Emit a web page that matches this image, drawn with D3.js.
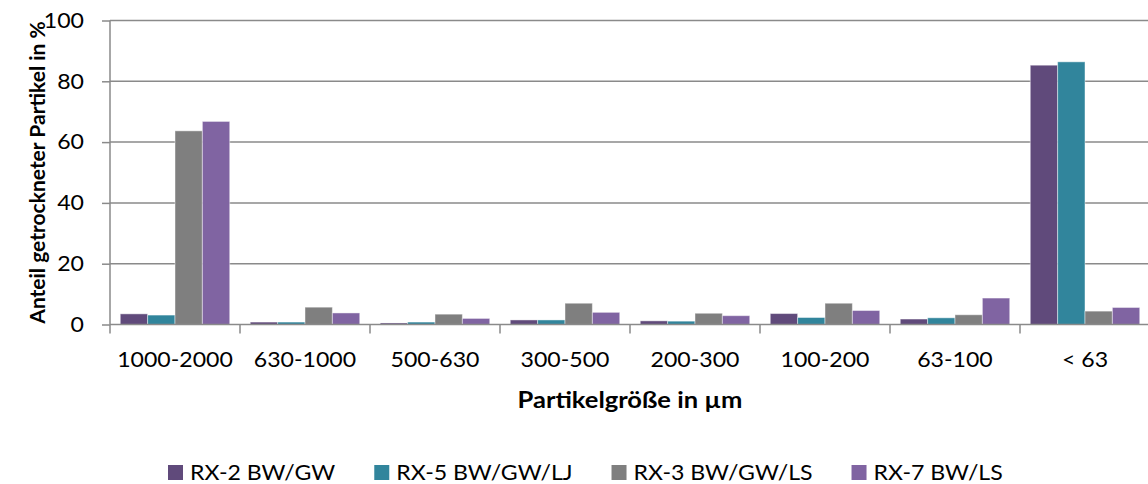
<!DOCTYPE html>
<html>
<head>
<meta charset="utf-8">
<script src="https://cdn.jsdelivr.net/npm/d3@7"></script>
<style>
  html, body { margin: 0; padding: 0; background: #ffffff; }
  svg { display: block; font-family: Lato, "Open Sans", "Liberation Sans", sans-serif; }
</style>
</head>
<body>
<svg id="chart" width="1148" height="484"></svg>
<script>
// Particle size classes (µm)
const categories = ["1000-2000", "630-1000", "500-630", "300-500", "200-300", "100-200", "63-100", "< 63"];

// Share of dried particles per size class, in %
const seriesNames = ["RX-2 BW/GW", "RX-5 BW/GW/LJ", "RX-3 BW/GW/LS", "RX-7 BW/LS"];
const rx2 = [3.5, 0.8, 0.5, 1.5, 1.2, 3.6, 1.8, 85.3];
const rx5 = [3.1, 0.8, 0.8, 1.5, 1.1, 2.3, 2.2, 86.4];
const rx3 = [63.7, 5.7, 3.4, 7.0, 3.7, 7.0, 3.2, 4.4];
const rx7 = [66.8, 3.8, 2.0, 4.0, 2.9, 4.6, 8.7, 5.6];
const yTicks = [0, 20, 40, 60, 80, 100];

const colors = ["#604a7b", "#31859c", "#7f7f7f", "#8064a2"];
const seriesValues = [rx2, rx5, rx3, rx7];

const svg = d3.select("#chart");
const plot = { left: 110, right: 1150, top: 20.5, bottom: 324.5 };
const textStretch = 1.1;

const x0 = d3.scaleBand().domain(categories).range([plot.left, plot.right]).paddingInner(0).paddingOuter(0);
// bars occupy 4 of 5.5 units per category (gap = 150% of a bar)
const x1 = d3.scaleBand().domain(seriesNames).range([0, x0.bandwidth()]).paddingInner(0).paddingOuter(0.375);
const y = d3.scaleLinear().domain([0, 100]).range([plot.bottom, plot.top]);

const gridColor = "#8a8a8a";

// horizontal gridlines
svg.append("g")
  .selectAll("line")
  .data(yTicks.filter(d => d > 0))
  .join("line")
  .attr("x1", plot.left).attr("x2", plot.right)
  .attr("y1", d => y(d)).attr("y2", d => y(d))
  .attr("stroke", gridColor).attr("stroke-width", 1.5);

// bars
const rows = categories.map((c, i) => ({ cat: c, vals: seriesNames.map((s, j) => ({ s, j, v: seriesValues[j][i] })) }));
svg.append("g")
  .selectAll("g")
  .data(rows)
  .join("g")
  .attr("transform", d => `translate(${x0(d.cat)},0)`)
  .selectAll("rect")
  .data(d => d.vals)
  .join("rect")
  .attr("x", d => x1(d.s))
  .attr("width", x1.bandwidth())
  .attr("y", d => y(d.v))
  .attr("height", d => y(0) - y(d.v))
  .attr("fill", d => colors[d.j])
  .attr("stroke", "rgba(255,255,255,0.45)")
  .attr("stroke-width", 1);

// y axis
const yAxis = d3.axisLeft(y).tickValues(yTicks).tickSize(8).tickPadding(26).tickFormat(d3.format("d"));
const gy = svg.append("g").attr("transform", `translate(${plot.left},0)`).call(yAxis);
gy.select(".domain").attr("stroke", gridColor).attr("stroke-width", 1.5).attr("d", `M0,${plot.bottom}V${plot.top}`);
gy.selectAll(".tick line").attr("stroke", gridColor).attr("stroke-width", 1.5);
gy.selectAll(".tick text")
  .attr("fill", "#000").attr("font-size", 21).attr("font-family", "Lato, sans-serif")
  .attr("transform", `scale(${textStretch},1)`)
  .attr("x", -26 / textStretch);

// x axis; tick marks sit on the category boundaries
const xAxis = d3.axisBottom(x0).tickSize(0).tickPadding(28);
const gx = svg.append("g").attr("transform", `translate(0,${plot.bottom})`).call(xAxis);
gx.select(".domain").attr("stroke", gridColor).attr("stroke-width", 1.5).attr("d", `M${plot.left},0H${plot.right}`);
gx.selectAll(".tick text")
  .attr("fill", "#000").attr("font-size", 21).attr("font-family", "Lato, sans-serif")
  .attr("transform", `scale(${textStretch},1)`);
svg.append("g")
  .selectAll("line")
  .data(categories.map(c => x0(c)).concat([plot.right]))
  .join("line")
  .attr("x1", d => d).attr("x2", d => d)
  .attr("y1", plot.bottom).attr("y2", plot.bottom + 9)
  .attr("stroke", gridColor).attr("stroke-width", 1.5);

// axis titles
svg.append("text")
  .attr("transform", `translate(45,${(plot.top + plot.bottom) / 2}) rotate(-90)`)
  .attr("text-anchor", "middle")
  .attr("font-size", 21).attr("font-weight", "bold")
  .text("Anteil getrockneter Partikel in %");

svg.append("text")
  .attr("transform", `translate(${(plot.left + plot.right) / 2},408) scale(1.16,1)`)
  .attr("text-anchor", "middle")
  .attr("font-size", 22).attr("font-weight", "bold")
  .text("Partikelgröße in µm");

// legend
const legend = svg.append("g");
let lx = 168;
seriesNames.forEach((name, j) => {
  const item = legend.append("g").attr("transform", `translate(${lx},0)`);
  item.append("rect").attr("x", 0).attr("y", 465).attr("width", 15).attr("height", 15).attr("fill", colors[j]);
  const t = item.append("text")
    .attr("transform", `translate(22,480) scale(${textStretch},1)`)
    .attr("font-size", 21)
    .text(name);
  const w = t.node().getComputedTextLength() * textStretch;
  lx += 22 + w + 39;
});
</script>
</body>
</html>
